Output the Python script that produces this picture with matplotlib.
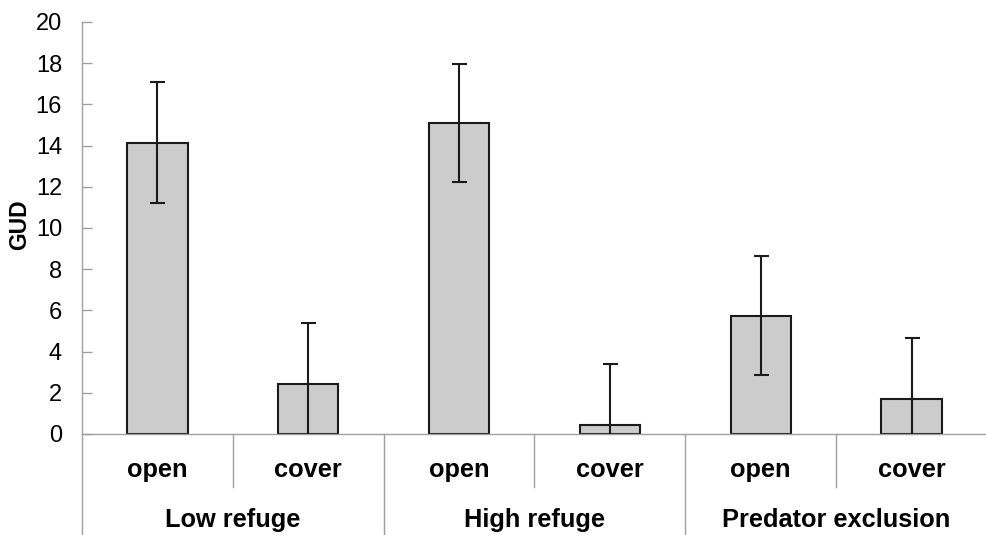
import numpy as np
import matplotlib.pyplot as plt
from matplotlib.transforms import blended_transform_factory

plt.rcParams['font.family'] = ['Liberation Sans', 'DejaVu Sans']

groups = ['Low refuge', 'High refuge', 'Predator exclusion']
habitats = ['open', 'cover']
gud = [14.15, 2.45, 15.1, 0.45, 5.75, 1.72]
se = [2.93, 2.93, 2.85, 2.93, 2.9, 2.92]

W, H = 987, 535
fig = plt.figure(figsize=(W / 100, H / 100), dpi=100)
ax = fig.add_axes([82 / W, 1 - 434 / H, 905 / W, 412 / H])

x = np.arange(len(gud))
ax.bar(x, gud, width=0.4, color='#cccccc', edgecolor='#1a1a1a', linewidth=1.5, zorder=2)
ax.errorbar(x, gud, yerr=se, fmt='none', ecolor='#1a1a1a', elinewidth=1.5,
            capsize=5.4, capthick=1.5, zorder=3)

ax.set_xlim(-0.5, len(gud) - 0.5)
ax.set_ylim(0, 20)
ax.set_yticks(np.arange(0, 21, 2))
ax.tick_params(axis='y', direction='in', length=7, width=1, color='#a0a0a0',
               labelsize=17, pad=14.4)
ax.set_xticks([])
for s in ['top', 'right']:
    ax.spines[s].set_visible(False)
for s in ['left', 'bottom']:
    ax.spines[s].set_color('#a0a0a0')
    ax.spines[s].set_linewidth(1)

# y label placed by hand so it sits at the figure edge
ax.text(-62 / 905, 0.507, 'GUD', transform=ax.transAxes, rotation=90,
        ha='center', va='center', fontsize=16.5, fontweight='bold')

# two-level category labels under the axis
tr = blended_transform_factory(ax.transData, ax.transAxes)
y_low = -(535 - 434) / 412
y_mid = -(487 - 434) / 412
for i in x:
    ax.text(i, -0.087, habitats[i % 2], transform=tr, ha='center', va='center',
            fontsize=18.3, fontweight='bold')
for g, name in enumerate(groups):
    ax.text(2 * g + 0.5, -0.209, name, transform=tr, ha='center', va='center',
            fontsize=18.3, fontweight='bold')
for b in [0.5, 2.5, 4.5]:
    ax.plot([b, b], [0, y_mid], transform=tr, color='#a0a0a0', lw=1, clip_on=False)
for b in [-0.5, 1.5, 3.5]:
    ax.plot([b, b], [0, y_low], transform=tr, color='#a0a0a0', lw=1, clip_on=False)

fig.savefig('out.png', dpi=100)
